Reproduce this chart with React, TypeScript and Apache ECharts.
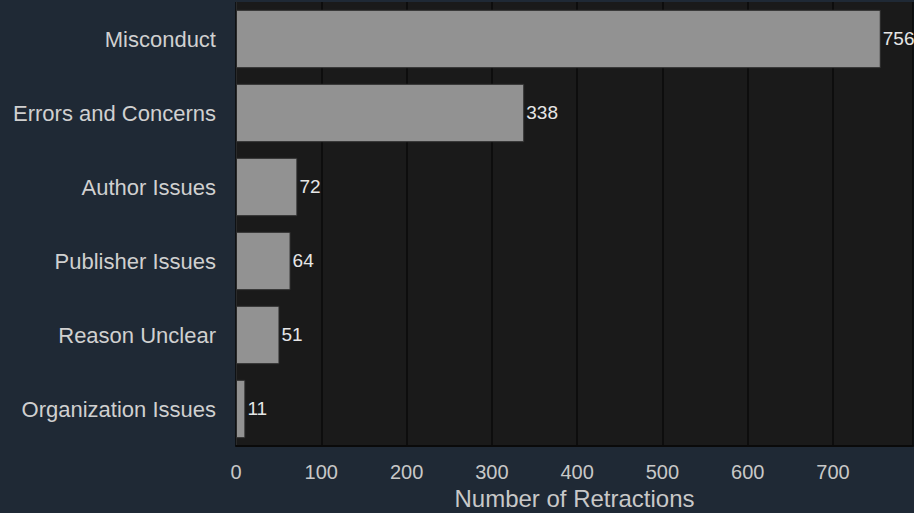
import React, { useEffect, useRef } from "react";
import * as echarts from "echarts";

const categories = [
  "Misconduct",
  "Errors and Concerns",
  "Author Issues",
  "Publisher Issues",
  "Reason Unclear",
  "Organization Issues",
];
const retractions = [756, 338, 72, 64, 51, 11];
const xTicks = [0, 100, 200, 300, 400, 500, 600, 700];
const xTitle = "Number of Retractions";

const FONT = "'Liberation Sans', Arial, Helvetica, sans-serif";

export default function App() {
  const ref = useRef<HTMLDivElement>(null);
  useEffect(() => {
    if (!ref.current) return;
    const chart = echarts.init(ref.current, undefined, { renderer: "svg" });
    const xMax = Math.max(...retractions) * 1.05;
    chart.setOption({
      animation: false,
      backgroundColor: "#1f2935",
      textStyle: { fontFamily: FONT },
      grid: {
        left: 236,
        right: 1,
        top: 2,
        bottom: 67,
        containLabel: false,
        outerBoundsMode: "none",
        show: true,
        backgroundColor: "#1a1a1a",
        borderWidth: 0,
      },
      xAxis: {
        type: "value",
        min: 0,
        max: xMax,
        interval: 100,
        name: xTitle,
        nameLocation: "middle",
        nameGap: 40,
        nameTextStyle: { color: "#c8c8c8", fontSize: 24, fontFamily: FONT },
        axisLine: { show: true, lineStyle: { color: "#0a0a0a", width: 2 } },
        axisTick: { show: false },
        axisLabel: {
          color: "#c8c8c8",
          fontSize: 20,
          margin: 16,
          fontFamily: FONT,
          formatter: (v: number) => (xTicks.includes(Math.round(v * 1000) / 1000) ? String(v) : ""),
        },
        splitLine: { show: true, lineStyle: { color: "#0a0a0a", width: 1.5 } },
      },
      yAxis: {
        type: "category",
        data: categories,
        inverse: true,
        axisLine: { show: true, lineStyle: { color: "#2a2a2a", width: 1 } },
        axisTick: { show: false },
        axisLabel: { color: "#d0d0d0", fontSize: 22, margin: 20, fontFamily: FONT },
        splitLine: { show: false },
      },
      series: [
        {
          type: "bar",
          data: retractions,
          barWidth: "79%",
          itemStyle: { color: "#929292", borderColor: "#2a2a2a", borderWidth: 1 },
          label: {
            show: true,
            position: "right",
            distance: 2,
            color: "#e6e6e6",
            fontSize: 19,
            fontFamily: FONT,
            offset: [0, -1],
          },
        },
      ],
    });
    return () => chart.dispose();
  }, []);
  return (
    <div
      ref={ref}
      style={{ position: "fixed", left: 0, top: 0, width: 914, height: 513 }}
    />
  );
}
